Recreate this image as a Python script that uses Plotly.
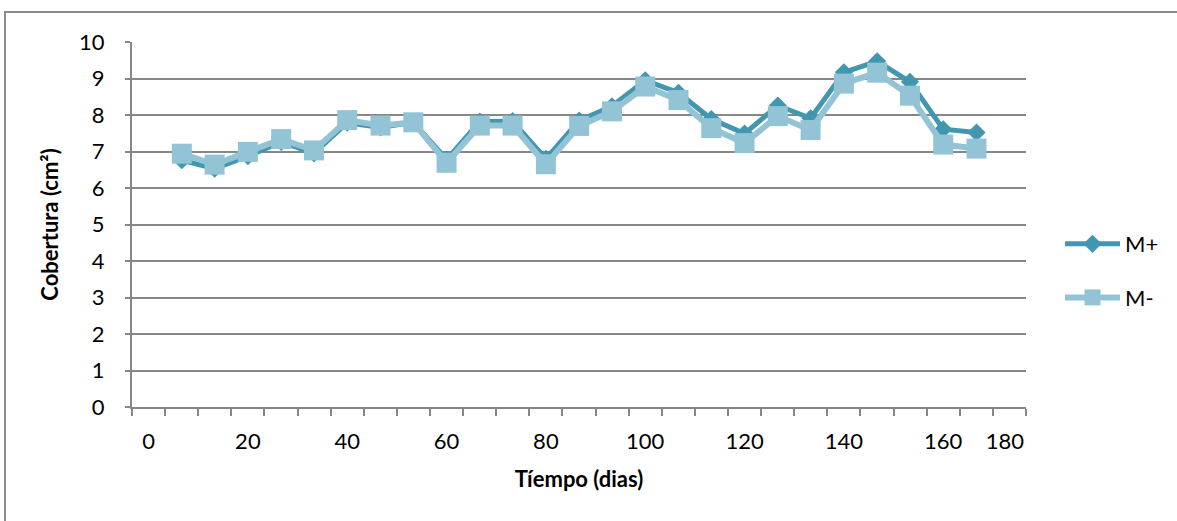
import plotly.graph_objects as go

# Sampling days (category centres on the time axis)
dias = [6.7, 13.3, 20.0, 26.7, 33.3, 40.0, 46.7, 53.3, 60.0, 66.7, 73.3, 80.0, 86.7,
        93.3, 100.0, 106.7, 113.3, 120.0, 126.7, 133.3, 140.0, 146.7, 153.3, 160.0, 166.7]

# Coverage (cm²) per treatment
m_mas = [6.76, 6.53, 6.87, 7.26, 6.95, 7.79, 7.66, 7.80, 6.78, 7.82, 7.83, 6.80, 7.85,
         8.24, 8.95, 8.61, 7.89, 7.49, 8.26, 7.91, 9.17, 9.47, 8.91, 7.61, 7.52]
m_menos = [6.94, 6.64, 6.99, 7.34, 7.03, 7.86, 7.71, 7.80, 6.69, 7.71, 7.71, 6.65, 7.70,
           8.10, 8.78, 8.41, 7.64, 7.23, 7.97, 7.59, 8.86, 9.16, 8.53, 7.19, 7.08]

# Axis labelling
x_tick_vals = [0, 20, 40, 60, 80, 100, 120, 140, 160, 172.4]
x_tick_text = ["0", "20", "40", "60", "80", "100", "120", "140", "160", "180"]
step = 20 / 3
x_min, x_max = -step / 2, 26.5 * step
x_minor_ticks = [x_min + step * j for j in range(28)]

W, H = 1177, 521
L, R, T, B = 132, 1026, 42, 407  # plot area in pixels

DARK = "#4197B0"
LIGHT = "#93C4D6"
GRID = "#878787"
FONT = "Lato"

fig = go.Figure()
fig.add_trace(go.Scatter(
    x=dias, y=m_mas, name="M+", mode="lines+markers", legendgroup="a",
    line=dict(color=DARK, width=5),
    marker=dict(symbol="diamond", size=14, color=DARK),
))
fig.add_trace(go.Scatter(
    x=dias, y=m_menos, name="M-", mode="lines+markers", legendgroup="b",
    line=dict(color=LIGHT, width=6),
    marker=dict(symbol="square", size=20, color=LIGHT),
))

pw, ph = R - L, B - T
fig.add_shape(
    type="rect", xref="paper", yref="paper",
    x0=(5 - L) / pw, x1=(W + 10 - L) / pw,
    y0=(B - (H + 10)) / ph, y1=1 + (T - 12) / ph,
    line=dict(color="#8C8C8C", width=2), fillcolor="rgba(0,0,0,0)", layer="below",
)

fig.update_layout(
    width=W, height=H,
    margin=dict(l=L, r=W - R, t=T, b=H - B, pad=0),
    paper_bgcolor="white", plot_bgcolor="white",
    font=dict(family=FONT, size=22, color="#000000"),
    showlegend=True,
    legend=dict(
        x=(1060 - L) / pw, y=(B - 271) / ph, xanchor="left", yanchor="middle",
        traceorder="grouped", tracegroupgap=22, itemwidth=55,
        font=dict(family=FONT, size=22, color="#000000"),
        bgcolor="rgba(0,0,0,0)",
    ),
    xaxis=dict(
        range=[x_min, x_max], tickmode="array", tickvals=x_tick_vals, ticktext=x_tick_text,
        ticks="", showgrid=False, zeroline=False,
        showline=True, linecolor=GRID, linewidth=2,
        ticklabelstandoff=14,
        minor=dict(tickmode="array", tickvals=x_minor_ticks, ticks="outside",
                   ticklen=7, tickcolor=GRID, tickwidth=2, showgrid=False),
        title=dict(text="<b>Tíempo (dias)</b>", font=dict(family=FONT, size=22), standoff=18),
    ),
    yaxis=dict(
        range=[0, 10], dtick=1, tick0=0, ticks="outside", ticklen=5, tickcolor=GRID, tickwidth=2,
        showgrid=True, gridcolor=GRID, gridwidth=2, zeroline=False,
        showline=True, linecolor=GRID, linewidth=2,
        ticklabelstandoff=16,
        title=dict(text="<b>Cobertura (cm²)</b>", font=dict(family=FONT, size=22), standoff=14),
    ),
)

fig.write_html("out.html")
